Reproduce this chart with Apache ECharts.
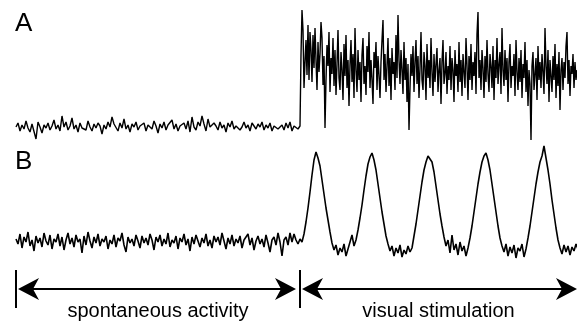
<!DOCTYPE html>
<html><head><meta charset="utf-8">
<script src="https://cdn.jsdelivr.net/npm/echarts@6/dist/echarts.min.js"></script>
<style>html,body{margin:0;padding:0;background:#fff}#c{width:577px;height:323px}</style>
</head><body><div id="c"></div>
<script>
// Trace A: spontaneous part (2 samples per time unit step) then visual stimulation part (sampled twice as densely)
const A_spont = [23,27,19,25,21,29,22,18,26,24, 11,28,23,17,25,22,27,20,24,30,
21,25,19,34,23,28,20,24,32,21, 25,18,27,22,24,20,29,23,19,26,
22,27,24,16,25,21,28,23,33,26, 24,19,27,22,31,21,25,18,26,23,
28,20,24,22,27,19,25,23,21,29, 24,17,26,22,28,20,25,23,30,21,
26,19,24,22,27,21,29,18,33,23, 20,28,24,34,26,19,31,23,21,27,
24,20,28,22,25,18,27,23,29,21, 24,26,20,23,28,22,25,19,27,24,
21,26,23,28,20,25,22,27,19,24, 26,21,23,25,20,27,22,28,19,24,
26,21,24];
const A_stim = [95,140,120,62,88,110,75,125,70,118, 100,68,115,82,122,90,60,108,78,96,
128,112,65,94,22,70,105,84,118,58, 92,76,112,64,100,55,86,120,72,60,
98,80,50,106,74,115,62,90,44,85, 110,68,96,52,122,80,58,100,70,88,
48,95,112,66,84,55,104,78,118,62, 90,70,46,98,82,108,60,94,75,52,
88,110,130,70,96,58,84,112,64,92, 50,102,76,88,60,115,72,135,90,66,
100,80,56,108,70,92,48,86,20,62, 96,74,104,58,88,110,66,94,52,82,
118,70,60,98,84,50,106,72,90,62, 112,78,54,96,68,86,102,58,80,92,
46,88,110,66,76,98,56,84,70,104, 60,92,80,48,100,74,86,58,108,68,
90,54,96,78,62,112,84,50,94,70, 106,60,88,74,98,56,116,138,72,90,
60,100,82,52,94,68,110,76,58,96, 84,62,104,50,90,72,112,66,86,98,
56,122,80,64,100,70,92,48,88,106, 62,84,74,96,54,110,78,60,92,68,
100,52,86,72,108,58,90,44,80,66, 10,84,98,60,76,92,50,104,70,88,
62,96,78,56,122,84,66,100,48,90, 74,58,94,70,106,52,86,64,98,40,
80,92,60,88,72,104,118,66,90,54, 84,76,96,62,88,70,80];
// Trace B
const B_spont = [31,26,36,22,33,28,38,24,30,19, 34,27,32,23,37,29,25,35,21,31,
28,36,24,33,20,30,37,26,32,23, 35,28,31,17,34,25,38,29,22,33,
27,36,24,31,28,34,21,30,26,35, 23,32,29,37,25,18,33,27,31,24,
35,29,22,34,27,32,25,36,30,20, 33,28,35,24,31,26,37,23,30,27,
34,21,32,28,36,25,31,19,33,26, 35,29,23,32,27,36,24,30,22,34,
28,33,25,37,29,21,32,26,35,24, 31,27,34,22,30,28,36,25,32,20,
29,34,26,31,23,35,27,18,30,33, 25,37,28,14,30,33,25,37,28,36,
30,26,31];
const B_stim = [28,36,48,62,78,95,110,118,112,104, 90,76,62,50,38,27,20,25,15,22,
18,26,14,21,28,35,24,30,40,52, 65,80,94,106,113,117,110,100,86,72,
58,46,34,26,19,24,14,22,17,25, 13,20,16,24,18,22,34,46,60,74,
88,100,108,114,115,108,98,84,70,56, 44,33,24,30,17,35,20,26,15,28,
19,24,14,22,32,44,58,72,86,98, 108,114,117,110,100,86,72,58,44,32,
24,18,26,14,23,17,25,12,22,19, 26,13,21,32,44,58,72,86,98,108,
114,124,112,100,86,70,56,42,30,22, 16,25,18,24,15,23,19,26,21];
const panelLabels = ['A', 'B'];
const periods = [[0, 142, 'spontaneous activity'], [142, 280.5, 'visual stimulation']];

const onset = A_spont.length - 1;
const traceA = A_spont.map((v, i) => [i, v]).concat(A_stim.map((v, j) => [onset + (j + 1) / 2, v]));
const traceB = B_spont.concat(B_stim).map((v, i) => [i, v]);

const font = '"Liberation Sans", Arial, Helvetica, sans-serif';
const chart = echarts.init(document.getElementById('c'), null, {renderer: 'canvas'});
const xa = i => ({gridIndex: i, type: 'value', min: 0, max: 280.5, show: false});
chart.setOption({
  animation: false,
  backgroundColor: '#fff',
  title: [
    {text: panelLabels[0], left: 15, top: 11, padding: 0, textStyle: {fontFamily: font, fontSize: 26, fontWeight: 'normal', color: '#000'}},
    {text: panelLabels[1], left: 15, top: 149, padding: 0, textStyle: {fontFamily: font, fontSize: 26, fontWeight: 'normal', color: '#000'}}
  ],
  grid: [
    {left: 16, width: 561, top: 0, height: 150},
    {left: 16, width: 561, top: 140, height: 130},
    {left: 16, width: 561, top: 270, height: 38}
  ],
  xAxis: [xa(0), xa(1), xa(2)],
  yAxis: [
    {gridIndex: 0, type: 'value', min: 0, max: 150, show: false},
    {gridIndex: 1, type: 'value', min: 0, max: 130, show: false},
    {gridIndex: 2, type: 'value', min: 0, max: 38, show: false}
  ],
  series: [
    {type: 'line', xAxisIndex: 0, yAxisIndex: 0, data: traceA, showSymbol: false, symbol: 'none',
     lineStyle: {color: '#000', width: 1.4}, clip: true},
    {type: 'line', xAxisIndex: 1, yAxisIndex: 1, data: traceB, showSymbol: false, symbol: 'none',
     lineStyle: {color: '#000', width: 1.6}, clip: true},
    {type: 'custom', xAxisIndex: 2, yAxisIndex: 2, data: periods, clip: false,
     renderItem: function (params, api) {
       const s = api.coord([api.value(0), 19]);
       const e = api.coord([api.value(1), 19]);
       const top = api.coord([api.value(0), 38])[1];
       const bot = api.coord([api.value(0), 0])[1];
       const y = s[1];
       const last = params.dataIndex === periods.length - 1;
       const lt = s[0] + 2;
       const rt = e[0] - (last ? 0 : 4);
       const st = {fill: '#000', stroke: null};
       return {type: 'group', children: [
         {type: 'line', shape: {x1: s[0], y1: top, x2: s[0], y2: bot}, style: {stroke: '#000', lineWidth: 2}},
         {type: 'line', shape: {x1: lt + 10, y1: y, x2: rt - 10, y2: y}, style: {stroke: '#000', lineWidth: 2}},
         {type: 'polygon', shape: {points: [[lt, y], [lt + 21, y - 11], [lt + 15, y], [lt + 21, y + 11]]}, style: st},
         {type: 'polygon', shape: {points: [[rt, y], [rt - 21, y - 11], [rt - 15, y], [rt - 21, y + 11]]}, style: st},
         {type: 'text', x: (s[0] + e[0]) / 2, y: y + 22, style: {text: api.value(2), fill: '#000',
           font: '20px ' + font, textAlign: 'center', textVerticalAlign: 'middle'}}
       ]};
     }}
  ]
});
</script></body></html>
